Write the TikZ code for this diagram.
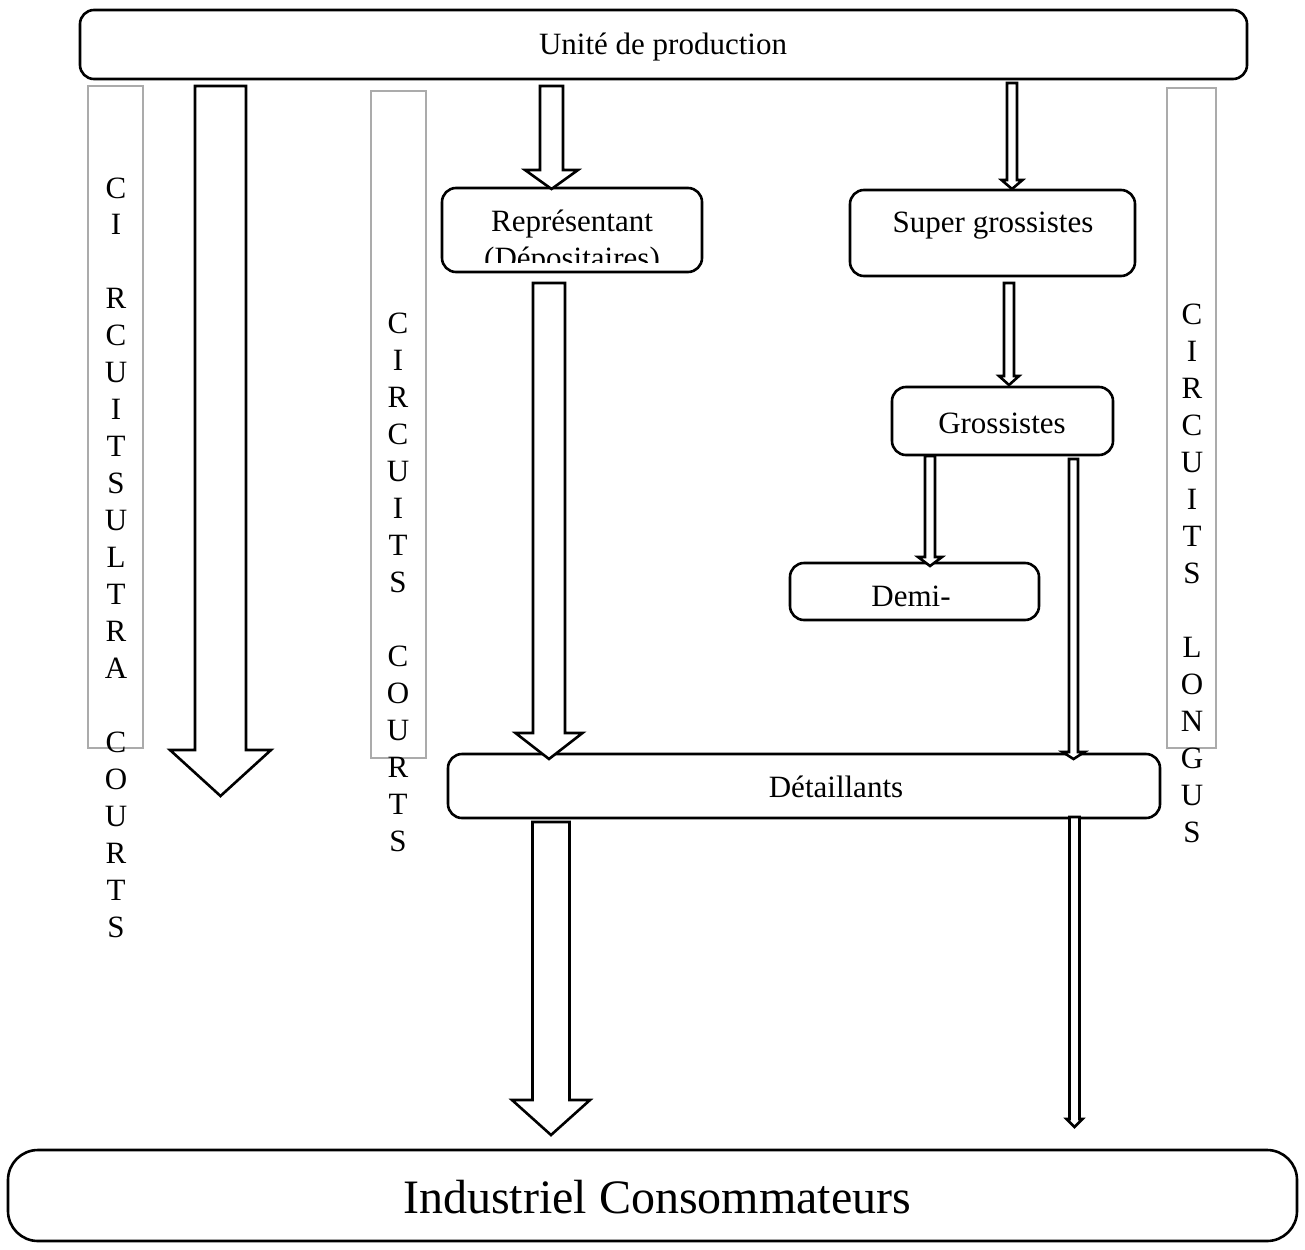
\documentclass[tikz,border=0pt]{standalone}
\usepackage{fontspec}
\setmainfont{Liberation Serif}
\usetikzlibrary{calc}

% block arrow: start, tip, shaft half-width, head half-width, head length
\newcommand\blockarr[5]{%
  \draw[blockarrow] ($(#1)+(-#3,0)$) -- ($(#2)+(-#3,-#5)$) -- ($(#2)+(-#4,-#5)$)
    -- (#2) -- ($(#2)+(#4,-#5)$) -- ($(#2)+(#3,-#5)$) -- ($(#1)+(#3,0)$) -- cycle;}

\begin{document}
\begin{tikzpicture}[x=1pt,y=-1pt,
  box/.style={draw, line width=2.6pt, rounded corners=14pt, outer sep=0pt, inner sep=0pt},
  greybar/.style={draw=black!33, line width=2.6pt},
  blockarrow/.style={draw, line width=2.6pt, fill=white, line join=miter},
  lbl/.style={font=\fontsize{31}{36}\selectfont, inner sep=0pt},
  vletter/.style={font=\fontsize{31}{36}\selectfont, inner sep=0pt, anchor=base}
]
\useasboundingbox (0,0) rectangle (1305,1249);

% boxes
\node[box, minimum width=1167pt, minimum height=69pt] (prod) at (663.5,44.5) {};
\node[lbl] at (663,47) {Unité de production};

\node[box, minimum width=260pt, minimum height=84pt] (rep) at (572,230) {};
\begin{scope}
  \clip (445,190) rectangle (700,262);
  \node[lbl, anchor=base] at (572,232) {Représentant};
  \node[lbl, anchor=base] at (572,268) {(Dépositaires)};
\end{scope}

\node[box, minimum width=285pt, minimum height=86pt] (super) at (992.5,233) {};
\node[lbl] at (993,226) {Super grossistes};

\node[box, minimum width=221pt, minimum height=68pt] (gros) at (1002.5,421) {};
\node[lbl] at (1002,423) {Grossistes};

\node[box, minimum width=249pt, minimum height=57pt] (demi) at (914.5,591.5) {};
\node[lbl] at (911,596) {Demi-};

\node[box, minimum width=712pt, minimum height=64pt] (det) at (804,786) {};
\node[lbl] at (836,787) {Détaillants};

\node[box, rounded corners=30pt, minimum width=1289pt, minimum height=91pt] (ind) at (652.5,1195.5) {};
\node[font=\fontsize{48}{56}\selectfont, inner sep=0pt] at (657,1197) {Industriel Consommateurs};

% grey side bars with vertical labels
\draw[greybar] (88,86) rectangle (143,748);
\draw[greybar] (371,91) rectangle (426,758);
\draw[greybar] (1167,88) rectangle (1216,748);

% first column: "C", "I", then the rest of the word one line lower
\node[vletter] at (116,199) {C};
\node[vletter] at (116,234) {I};
\foreach \ch [count=\i] in {R,C,U,I,T,S,U,L,T,R,A,{},C,O,U,R,T,S}
  \node[vletter] at (116,{308+(\i-1)*37}) {\ch};
\foreach \ch [count=\i] in {C,I,R,C,U,I,T,S,{},C,O,U,R,T,S}
  \node[vletter] at (398,{333+(\i-1)*37}) {\ch};
\foreach \ch [count=\i] in {C,I,R,C,U,I,T,S,{},L,O,N,G,U,S}
  \node[vletter] at (1192,{324+(\i-1)*37}) {\ch};

% arrow end points
\coordinate (s1) at (220.5,86);   \coordinate (t1) at (220.5,796);
\coordinate (s2) at (551.5,86);   \coordinate (t2) at (551.5,189);
\coordinate (s3) at (549,283);    \coordinate (t3) at (549,759);
\coordinate (s4) at (551,822);    \coordinate (t4) at (551,1135);
\coordinate (s5) at (1012,83);    \coordinate (t5) at (1012,189);
\coordinate (s6) at (1009,283);   \coordinate (t6) at (1009,385);
\coordinate (s7) at (930,456);    \coordinate (t7) at (930,566);
\coordinate (s8) at (1073.5,459); \coordinate (t8) at (1073.5,759);
\coordinate (s9) at (1074.5,817); \coordinate (t9) at (1074.5,1127);

\blockarr{s1}{t1}{25.5}{50.5}{46}
\blockarr{s2}{t2}{11.5}{26.5}{19}
\blockarr{s3}{t3}{16}{33.5}{26}
\blockarr{s4}{t4}{18.5}{39}{35}
\blockarr{s5}{t5}{5}{10.5}{9}
\blockarr{s6}{t6}{5}{10}{9}
\blockarr{s7}{t7}{5}{12}{9}
\blockarr{s8}{t8}{4.5}{11}{7}
\blockarr{s9}{t9}{5}{8}{8}
\end{tikzpicture}
\end{document}
